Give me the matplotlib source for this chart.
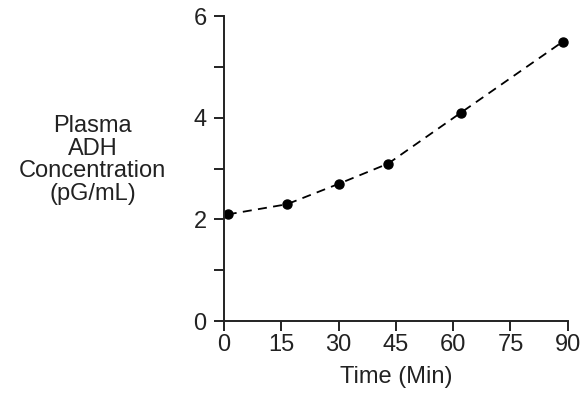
import matplotlib
matplotlib.use("Agg")
import matplotlib.pyplot as plt

# Plasma ADH concentration over time
time_min = [1.0, 16.5, 30.0, 43.0, 62.0, 88.7]
adh_pg_ml = [2.1, 2.3, 2.7, 3.1, 4.1, 5.5]
x_ticks = [0, 15, 30, 45, 60, 75, 90]
y_ticks = [0, 1, 2, 3, 4, 5, 6]
y_tick_labels = ["0", "", "2", "", "4", "", "6"]

plt.rcParams["font.family"] = ["Liberation Sans", "DejaVu Sans"]
FS = 17

fig = plt.figure(figsize=(5.8, 3.95), dpi=100)
ax = fig.add_axes([0.386, 0.187, 0.593, 0.772])

ax.plot(time_min, adh_pg_ml, color="black", linestyle=(0, (5, 3.5)),
        linewidth=1.3, marker="o", markersize=6.5, markerfacecolor="black",
        markeredgecolor="black")

ax.set_xlim(0, 90)
ax.set_ylim(0, 6)
ax.set_xticks(x_ticks)
ax.set_yticks(y_ticks)
ax.set_yticklabels(y_tick_labels)

for side in ("top", "right"):
    ax.spines[side].set_visible(False)
for side in ("left", "bottom"):
    ax.spines[side].set_linewidth(1.4)
    ax.spines[side].set_color("#222222")

ax.tick_params(axis="both", direction="out", length=7, width=1.4,
               color="#222222", labelsize=FS, labelcolor="#222222")
ax.tick_params(axis="x", pad=2.5)
ax.tick_params(axis="y", pad=5.5)

ax.set_xlabel("Time (Min)", fontsize=FS, color="#222222", labelpad=7)

fig.text(0.16, 0.595, "Plasma\nADH\nConcentration\n(pG/mL)", ha="center",
         va="center", fontsize=FS, color="#222222", linespacing=1.05)

fig.savefig("out.png", dpi=100)
